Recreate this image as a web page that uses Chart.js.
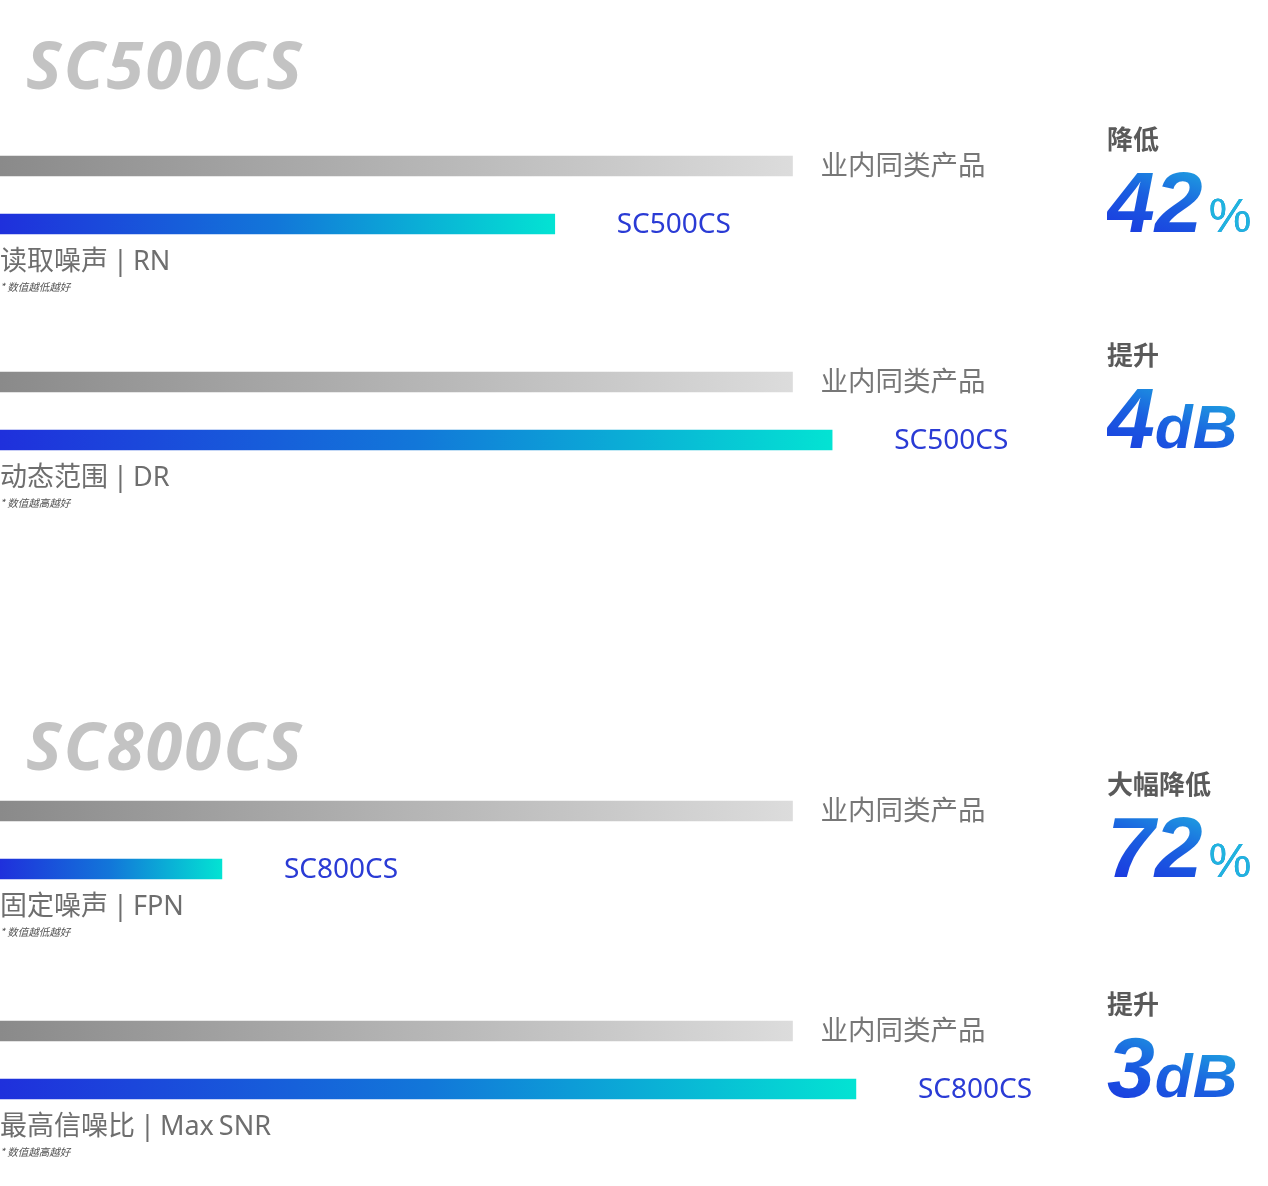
<!DOCTYPE html>
<html>
<head>
<meta charset="utf-8">
<script src="https://cdn.jsdelivr.net/npm/chart.js@4.4.1/dist/chart.umd.min.js"></script>
<style>
  html, body { margin: 0; padding: 0; background: #fff; }
  #page { position: relative; width: 1268px; height: 1186px; overflow: hidden; }
  .box { position: absolute; left: 0; width: 1268px; height: 116px; }
  .title {
    position: absolute; left: 26px; font: italic 700 67px/1 "Open Sans", sans-serif;
    letter-spacing: 2px; color: #c3c3c3; white-space: nowrap;
  }
  .metric {
    position: absolute; left: 0; font: 27px/27px "Noto Sans", "Noto Sans CJK SC", sans-serif;
    color: #6e6e6e; white-space: nowrap; word-spacing: -2px;
  }
  .note {
    position: absolute; left: 0; font: italic 10.5px/11px "Noto Sans CJK SC", sans-serif;
    color: #555; white-space: nowrap;
  }
  .change {
    position: absolute; left: 1107px; font: 700 26px/26px "Noto Sans CJK SC", sans-serif;
    color: #5a5a5a; white-space: nowrap;
  }
  .big {
    position: absolute; left: 1107px; font: italic 700 86px/86px "Liberation Sans", Arial, sans-serif;
    white-space: nowrap; padding-right: 14px;
    background: linear-gradient(20deg, #1b2ee0 0%, #1a5fe0 45%, #1fa8e0 80%, #22c4e2 100%);
    -webkit-background-clip: text; background-clip: text; color: transparent;
  }
  .big .unit-db { font-size: 62px; }
  .big .unit-pct { font: 400 48px "Liberation Sans", Arial, sans-serif; color: #20b4de; margin-left: 6px; }
</style>
</head>
<body>
<div id="page"></div>
<script>
// series / labels
const groupTitles = ['SC500CS', 'SC800CS'];
const metrics = ['读取噪声 | RN', '动态范围 | DR', '固定噪声 | FPN', '最高信噪比 | Max SNR'];
const notes = ['* 数值越低越好', '* 数值越高越好', '* 数值越低越好', '* 数值越高越好'];
const peerLabel = '业内同类产品';
const products = ['SC500CS', 'SC500CS', 'SC800CS', 'SC800CS'];
const peerValues = [100, 100, 100, 100];
const ourValues = [70, 105, 28, 108];
const changeWords = ['降低', '提升', '大幅降低', '提升'];
const changeNumbers = ['42', '4', '72', '3'];
const changeUnits = ['%', 'dB', '%', 'dB'];

// layout (gray bar centre of each block)
const blockY = [166, 382, 811, 1031];
const titleTop = [30, 711];

const page = document.getElementById('page');

function addDiv(cls, top, html) {
  const d = document.createElement('div');
  d.className = cls;
  d.style.top = top + 'px';
  d.innerHTML = html;
  page.appendChild(d);
  return d;
}

groupTitles.forEach((t, i) => addDiv('title', titleTop[i], t));

const barLabels = {
  id: 'barLabels',
  afterDatasetsDraw(chart) {
    const ctx = chart.ctx;
    const meta = chart.getDatasetMeta(0);
    ctx.save();
    ctx.textBaseline = 'middle';
    meta.data.forEach((bar, i) => {
      if (i === 0) {
        ctx.font = '27.5px "Noto Sans CJK SC", sans-serif';
        ctx.fillStyle = '#777';
        ctx.fillText(chart.data.labels[i], bar.x + 28, bar.y - 1);
      } else {
        ctx.font = '28px "Noto Sans", sans-serif';
        ctx.fillStyle = '#2a3bd5';
        ctx.fillText(chart.data.labels[i], bar.x + 62, bar.y + 1);
      }
    });
    ctx.restore();
  }
};

function barFill(c) {
  const chart = c.chart;
  if (!chart.chartArea) return '#999';
  const x0 = chart.scales.x.getPixelForValue(0);
  const x1 = chart.scales.x.getPixelForValue(c.raw);
  const g = chart.ctx.createLinearGradient(x0, 0, x1, 0);
  if (c.dataIndex === 0) {
    g.addColorStop(0, '#8a8a8a');
    g.addColorStop(1, '#dcdcdc');
  } else {
    g.addColorStop(0, '#1f30dc');
    g.addColorStop(0.5, '#1277d9');
    g.addColorStop(1, '#03e3d3');
  }
  return g;
}

metrics.forEach((m, i) => {
  const G = blockY[i];
  const box = addDiv('box', G - 29, '');
  const cv = document.createElement('canvas');
  box.appendChild(cv);

  new Chart(cv, {
    type: 'bar',
    data: {
      labels: [peerLabel, products[i]],
      datasets: [{
        data: [peerValues[i], ourValues[i]],
        backgroundColor: barFill,
        borderWidth: 0,
        borderSkipped: false,
        barThickness: 20,
        clip: false
      }]
    },
    options: {
      indexAxis: 'y',
      responsive: true,
      maintainAspectRatio: false,
      animation: false,
      layout: { padding: 0 },
      scales: {
        x: { min: 0, max: 160, display: false },
        y: { display: false }
      },
      plugins: { legend: { display: false }, tooltip: { enabled: false } }
    },
    plugins: [barLabels]
  });

  addDiv('metric', G + 80, m);
  addDiv('note', G + 115, notes[i]);
  addDiv('change', G - 41, changeWords[i]);
  const unit = changeUnits[i] === '%'
    ? '<span class="unit-pct">%</span>'
    : '<span class="unit-db">' + changeUnits[i] + '</span>';
  addDiv('big', G - 7, changeNumbers[i] + unit);
});
</script>
</body>
</html>
